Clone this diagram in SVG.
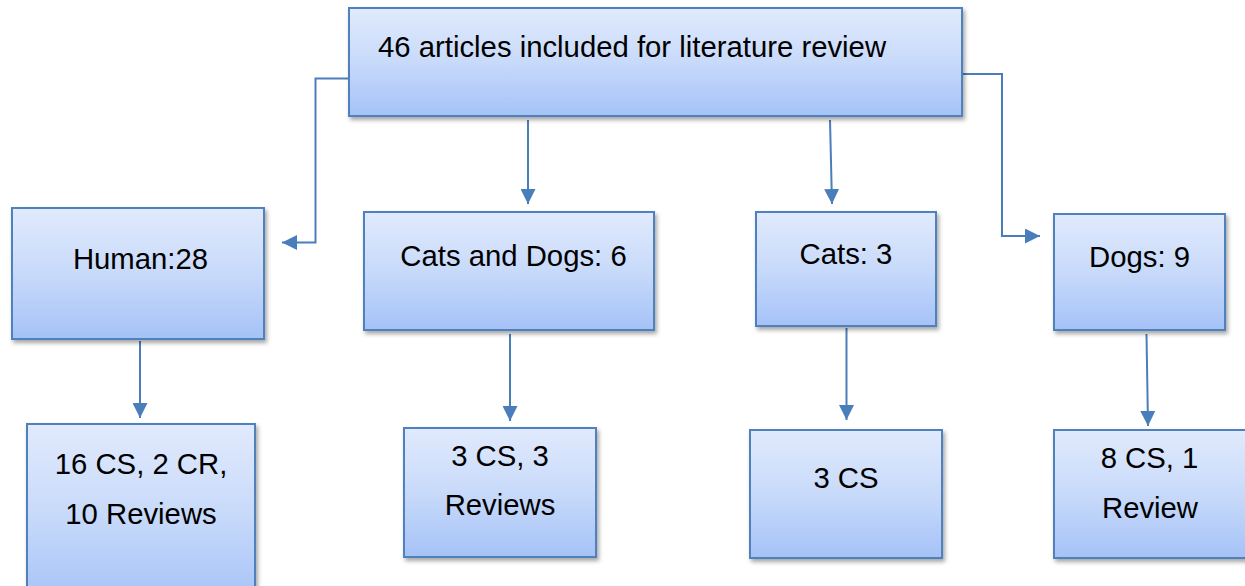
<svg xmlns="http://www.w3.org/2000/svg" width="1245" height="586" viewBox="0 0 1245 586">
<defs>
<linearGradient id="g" x1="0" y1="0" x2="0" y2="1">
<stop offset="0" stop-color="#E1EAFD"/>
<stop offset="0.5" stop-color="#C8DAFA"/>
<stop offset="1" stop-color="#A5C2F7"/>
</linearGradient>
<filter id="sh" x="-10%" y="-10%" width="120%" height="130%">
<feDropShadow dx="2" dy="3" stdDeviation="2" flood-color="#000" flood-opacity="0.35"/>
</filter>
<marker id="ah" markerUnits="userSpaceOnUse" markerWidth="15" markerHeight="15" refX="15" refY="7.5" orient="auto">
<path d="M0,0 L15,7.5 L0,15 z" fill="#4A7EBB"/>
</marker>
<style>
.box{fill:url(#g);stroke:#4F81BD;stroke-width:2;filter:url(#sh)}
.t{font-family:"Liberation Sans",Arial,sans-serif;font-size:29.3px;fill:#000}
.c{text-anchor:middle}
.ln{fill:none;stroke:#4A7EBB;stroke-width:2;marker-end:url(#ah)}
</style>
</defs>
<rect width="1245" height="586" fill="#fff"/>
<g id="connectors">
<path class="ln" d="M349,78.5 H315.5 V242.5 H282"/>
<path class="ln" d="M528,120 V204"/>
<path class="ln" d="M830,120 L832,204"/>
<path class="ln" d="M962,74 H1002 V236 H1040"/>
<path class="ln" d="M140,341 V418"/>
<path class="ln" d="M510,334 V421"/>
<path class="ln" d="M846.5,328 V420"/>
<path class="ln" d="M1146.5,334 L1148,426"/>
</g>
<g id="top">
<rect class="box" x="349" y="8" width="613" height="108"/>
<text class="t" x="378" y="57">46 articles included for literature review</text>
</g>
<g id="human">
<rect class="box" x="12" y="208" width="252" height="131"/>
<text class="t c" x="140.5" y="269">Human:28</text>
</g>
<g id="catsdogs">
<rect class="box" x="364" y="212" width="290" height="118"/>
<text class="t c" x="513.5" y="266">Cats and Dogs: 6</text>
</g>
<g id="cats">
<rect class="box" x="756" y="212" width="180" height="114"/>
<text class="t c" x="846" y="264">Cats: 3</text>
</g>
<g id="dogs">
<rect class="box" x="1054" y="214" width="171" height="116"/>
<text class="t c" x="1139.5" y="267">Dogs: 9</text>
</g>
<g id="human-detail">
<rect class="box" x="27" y="424" width="228" height="180"/>
<text class="t c" x="141" y="474">16 CS, 2 CR,</text>
<text class="t c" x="141" y="524">10 Reviews</text>
</g>
<g id="catsdogs-detail">
<rect class="box" x="404" y="428" width="192" height="129"/>
<text class="t c" x="500" y="466">3 CS, 3</text>
<text class="t c" x="500" y="515">Reviews</text>
</g>
<g id="cats-detail">
<rect class="box" x="750" y="430" width="192" height="128"/>
<text class="t c" x="846" y="488">3 CS</text>
</g>
<g id="dogs-detail">
<rect class="box" x="1054" y="430" width="200" height="128"/>
<text class="t c" x="1149.5" y="468">8 CS, 1</text>
<text class="t c" x="1150" y="518">Review</text>
</g>
</svg>
